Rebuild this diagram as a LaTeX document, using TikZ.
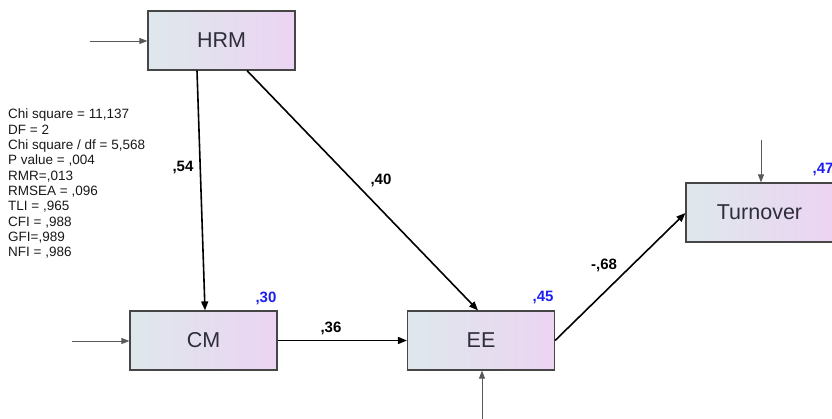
\documentclass[tikz,border=0pt]{standalone}
\usepackage{fontspec}
\setmainfont{Liberation Sans}
\usepackage{tikz}
\usetikzlibrary{arrows.meta}

\definecolor{boxleft}{RGB}{222,232,236}
\definecolor{boxright}{RGB}{236,212,242}
\definecolor{boxline}{RGB}{70,70,70}
\definecolor{boxtext}{RGB}{45,45,60}
\definecolor{rsq}{RGB}{30,30,240}

\tikzset{
  varbox/.style={draw=boxline, line width=1.2pt, left color=boxleft, right color=boxright,
    minimum width=147pt, minimum height=59pt, inner sep=0pt, text=boxtext, font=\fontsize{21.5}{21.5}\selectfont},
  path/.style={line width=1.6pt, -{Triangle[length=9pt,width=7pt]}},
  errarrow/.style={line width=0.8pt, draw=black!65, -{Triangle[length=8pt,width=6pt]}},
  coef/.style={font=\bfseries\fontsize{15}{15}\selectfont, inner sep=0.75pt},
  rsqlabel/.style={font=\bfseries\fontsize{15}{15}\selectfont, text=rsq, inner sep=0.75pt}
}

\begin{document}
\begin{tikzpicture}[x=1pt,y=1pt,yscale=-1,xscale=1]
	\useasboundingbox (0,0) rectangle (832,419);
	
	% Variables
	\node [varbox] (hrm) at (221.5,40.5) {HRM};
	\node [varbox] (cm) at (203.5,340.5) {CM};
	\node [varbox] (ee) at (481,340.5) {EE};
	\node [varbox] (turn) at (759.5,212.5) {Turnover};
	
	% error terms
	\coordinate (ehrm) at (90,41);
	\coordinate (ecm) at (72,341);
	\coordinate (eee) at (482,419);
	\coordinate (eturn) at (761,140);
	\draw [errarrow] (ehrm) -- (ehrm -| hrm.west);
	\draw [errarrow] (ecm) -- (ecm -| cm.west);
	\draw [errarrow] (eee) -- (eee |- ee.south);
	\draw [errarrow] (eturn) -- (eturn |- turn.north);
	
	% Paths
	\draw [path] ([xshift=-24.5pt]hrm.south) -- ([xshift=1.5pt]cm.north);
	\draw [path] ([xshift=25.5pt]hrm.south) -- ([xshift=-3pt]ee.north);
	\draw [path] (cm.east) -- (ee.west);
	\draw [path] (ee.east) -- ([yshift=0.5pt]turn.west);
	
	% Coefficients
	\node [coef] (c54) at (183,168) {,54};
	\node [coef] (c40) at (381,180) {,40};
	\node [coef] (c36) at (331,328) {,36};
	\node [coef] (c68) at (604,265) {-,68};
	
	% R squared
	\node [rsqlabel] (r30) at (266,298) {,30};
	\node [rsqlabel] (r45) at (543,298) {,45};
	\node [rsqlabel] (r47) at (823,170) {,47};
	
	% Fit statistics
	\node [anchor=north west, inner sep=0pt, align=left, text=black!90, font=\fontsize{13.5}{15.3}\selectfont] (fit) at (8,109) {Chi square = 11,137\\DF = 2\\Chi square / df = 5,568\\P value = ,004\\RMR=,013\\RMSEA = ,096\\TLI = ,965\\CFI = ,988\\GFI=,989\\NFI = ,986};
	
\end{tikzpicture}
\end{document}
